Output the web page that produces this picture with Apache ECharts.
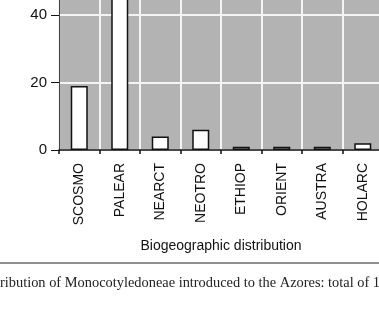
<!DOCTYPE html>
<html><head><meta charset="utf-8">
<script src="https://cdn.jsdelivr.net/npm/echarts@6/dist/echarts.min.js"></script>
<style>html,body{margin:0;padding:0;background:#fff}#c{width:379px;height:314px}</style>
</head><body><div id="c"></div>
<script>
var categories = ["SCOSMO","PALEAR","NEARCT","NEOTRO","ETHIOP","ORIENT","AUSTRA","HOLARC"];
var values = [19, 56, 4, 6, 1, 1, 1, 2];
var yTicks = [0, 20, 40, 60];
var xAxisTitle = "Biogeographic distribution";
var caption = "ribution of Monocotyledoneae introduced to the Azores: total of 1";

var chart = echarts.init(document.getElementById('c'), null, {renderer:'canvas'});
chart.setOption({
  animation:false,
  grid:{left:59, top:-52.5, width:324, height:202.5, show:true, backgroundColor:'#b3b3b3', borderWidth:0,
        containLabel:false, outerBoundsMode:'none'},
  xAxis:{type:'category', data:categories, boundaryGap:true,
    name:xAxisTitle, nameLocation:'middle', nameGap:89,
    nameTextStyle:{fontFamily:'Liberation Sans', fontSize:14, color:'#111'},
    axisLine:{lineStyle:{color:'#111', width:1.5}},
    axisTick:{show:true, length:4, lineStyle:{color:'#111', width:1.5}},
    axisLabel:{rotate:90, margin:13, fontFamily:'Liberation Sans', fontSize:14, color:'#111'},
    splitLine:{show:true, lineStyle:{color:'#f4f4f4', width:2}}
  },
  yAxis:{type:'value', min:yTicks[0], max:yTicks[yTicks.length-1], interval:20,
    axisLine:{show:true, lineStyle:{color:'#444', width:1}},
    axisTick:{show:true, length:8, lineStyle:{color:'#111', width:1}},
    axisLabel:{margin:12, fontFamily:'Liberation Sans', fontSize:15, color:'#111'},
    splitLine:{show:true, lineStyle:{color:'#f4f4f4', width:2}}
  },
  series:[{type:'bar', data:values, barWidth:17,
    itemStyle:{color:'#ffffff', borderColor:'#111', borderWidth:1.5}}],
  graphic:[
    {type:'line', shape:{x1:0,y1:263,x2:379,y2:263}, style:{stroke:'#222', lineWidth:1.2}},
    {type:'text', left:0, top:276, style:{text:caption, font:'14.4px "Liberation Serif"', fill:'#222'}}
  ]
});
</script></body></html>
